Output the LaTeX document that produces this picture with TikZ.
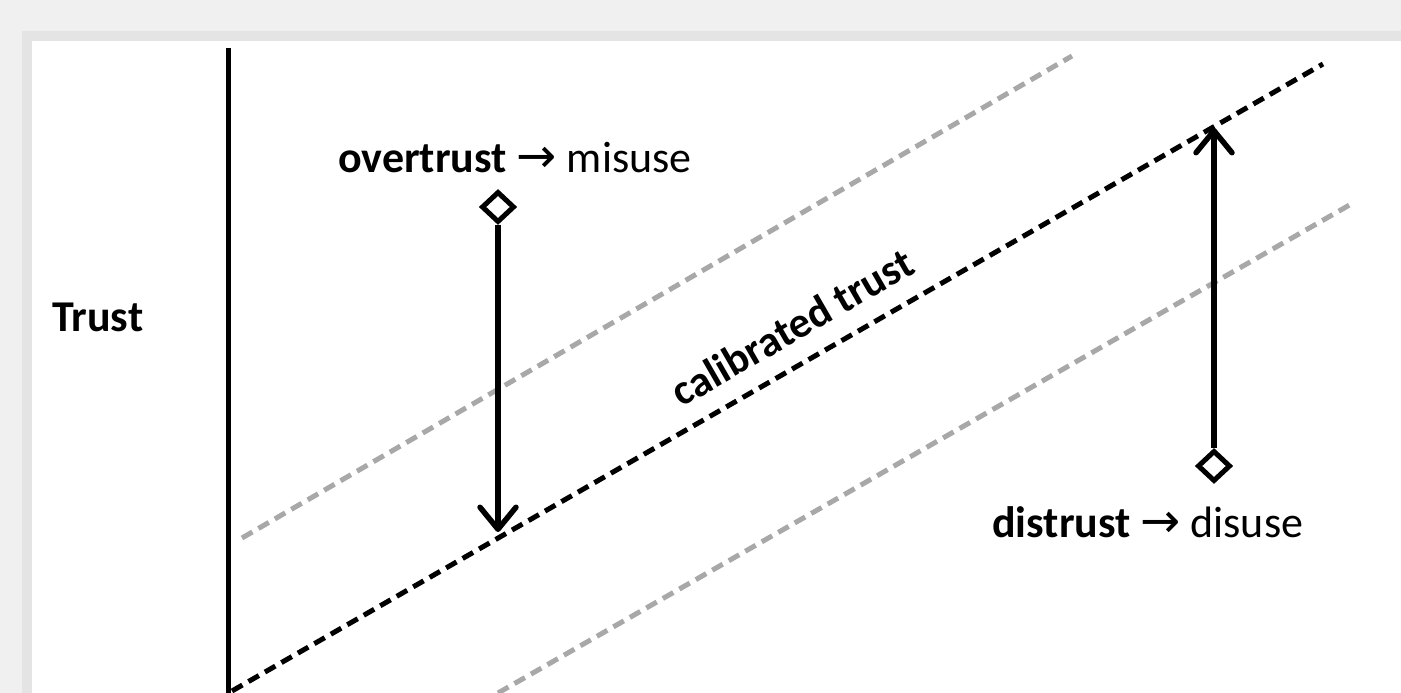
\documentclass[tikz,border=0pt]{standalone}
\usepackage{fontspec}
\setmainfont{Carlito}
\newfontfamily\arrowfont{DejaVu Sans}
\usetikzlibrary{shapes.geometric,arrows.meta}
\definecolor{bgpage}{HTML}{F0F0F0}
\definecolor{bgshadow}{HTML}{E4E4E4}
\definecolor{dashgray}{HTML}{A8A8A8}
\tikzset{
  axisline/.style={line width=5pt, black},
  blackdash/.style={line width=5pt, black, dash pattern=on 12pt off 7pt},
  graydash/.style={line width=5pt, dashgray, dash pattern=on 12pt off 7pt},
  endmark/.style={shape=diamond, draw=black, fill=white, line width=5pt, inner sep=0pt, minimum width=33pt, minimum height=31pt},
  trustarrow/.style={line width=5.5pt, -{Straight Barb[length=22pt,width=36pt,round]}},
  lbl/.style={inner sep=0pt, font=\fontsize{44}{50}\selectfont},
}
\newcommand{\trarrow}{{\arrowfont\fontsize{48}{50}\selectfont →}}
\begin{document}
\begin{tikzpicture}[x=1pt,y=1pt]
  \fill[bgpage] (0,0) rectangle (1401,693);
  \useasboundingbox (0,0) rectangle (1401,693);
  \fill[bgshadow] (22,0) rectangle (1401,662);
  \fill[white] (32,0) rectangle (1401,652);
  % axis
  \coordinate (axtop) at (228,645);
  \coordinate (axbot) at (228,0);
  \draw[axisline] (axtop) -- (axbot);
  % lines
  \coordinate (cal0) at (232,2);
  \coordinate (cal1) at (1323,629);
  \coordinate (up0) at (242,155);
  \coordinate (up1) at (1072,637);
  \coordinate (lo0) at (498,0);
  \coordinate (lo1) at (1353,490);
  \draw[graydash] (up0) -- (up1);
  \draw[graydash] (lo0) -- (lo1);
  \draw[blackdash] (cal0) -- (cal1);
  % labels
  \node[lbl, font=\fontsize{44}{50}\selectfont\bfseries, anchor=base west] (trust) at (52,361) {Trust};
  \node[lbl, anchor=base west] (over) at (338,520) {\textbf{overtrust} \trarrow{} misuse};
  \node[lbl, anchor=base west] (dis) at (992,155) {\textbf{distrust} \trarrow{} disuse};
  \node[lbl, font=\fontsize{43}{50}\selectfont\bfseries, rotate=30] (calib) at (792,366) {calibrated trust};
  % arrows
  \node[endmark] (d1) at (498,486) {};
  \coordinate (t1) at (498,161);
  \draw[trustarrow] (d1.south) -- (t1);
  \node[endmark] (d2) at (1214,227) {};
  \coordinate (t2) at (1214,565);
  \draw[trustarrow] (d2.north) -- (t2);
\end{tikzpicture}
\end{document}
